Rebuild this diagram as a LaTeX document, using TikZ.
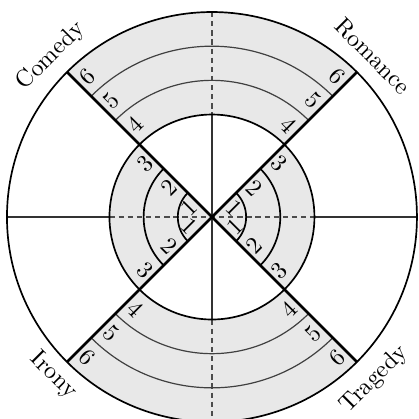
\documentclass[tikz,border=0pt]{standalone}
\usepackage{tikz}
\usetikzlibrary{calc}

\begin{document}
\begin{tikzpicture}[
  font=\normalsize,
  shade/.style={fill=black!9},
  diag/.style={line width=1.1pt},
  rim/.style={line width=0.7pt},
  ringthin/.style={line width=0.5pt, black!75},
  axis/.style={line width=0.45pt, black!80},
  axisdash/.style={line width=0.45pt, black!70, dash pattern=on 2.2pt off 1.6pt}
]

% ----- ukuran dasar -----
\def\R{3}
\def\dr{0.5}
\def\half{1.5}
\useasboundingbox (-3.102,-2.956) rectangle (3.029,3.176);
\coordinate (O) at (0,0);

% ----- daerah berarsir -----
% sektor atas dan bawah: cincin 4 sampai 6
\fill[shade] (45:\half) arc (45:135:\half) -- (135:\R) arc (135:45:\R) -- cycle;
\fill[shade] (225:\half) arc (225:315:\half) -- (315:\R) arc (315:225:\R) -- cycle;
% sektor kiri dan kanan: cincin 1 sampai 3
\fill[shade] (O) -- (135:\half) arc (135:225:\half) -- cycle;
\fill[shade] (O) -- (-45:\half) arc (-45:45:\half) -- cycle;

% ----- sumbu tegak dan mendatar -----
\draw[axis] (180:\R) -- (180:\half);
\draw[axisdash] (180:\half) -- (0:\half);
\draw[axis] (0:\half) -- (0:\R);
\draw[axisdash] (90:\R) -- (90:\half);
\draw[axis] (90:\half) -- (270:\half);
\draw[axisdash] (270:\half) -- (270:\R);

% ----- cincin -----
\foreach \r in {4,5} {
  \draw[ringthin] (45:\r*\dr) arc (45:135:\r*\dr);
  \draw[ringthin] (225:\r*\dr) arc (225:315:\r*\dr);
}
\foreach \r in {1,2} {
  \draw[rim] (135:\r*\dr) arc (135:225:\r*\dr);
  \draw[rim] (-45:\r*\dr) arc (-45:45:\r*\dr);
}
\draw[rim] (O) circle (\half);
\draw[rim] (O) circle (\R);

% ----- diagonal tebal -----
\draw[diag] (135:\R) -- (O) -- (315:\R);
\draw[diag] (45:\R) -- (O) -- (225:\R);

% ----- angka pada diagonal -----
% \sa: geser ke sektor atas/bawah, \sb: geser ke sektor kiri/kanan
\foreach \ang/\rot/\sa/\sb in {135/45/-90/90, 45/-45/90/-90,
                               225/-45/90/-90, 315/45/-90/90} {
  \foreach \i/\d in {4/1.75, 5/2.25, 6/2.75}
    \node[rotate=\rot, inner sep=0pt] (n-\ang-\i)
      at ($(\ang:\d) + (\ang+\sa:0.16)$) {\i};
  \foreach \i/\d in {1/0.33, 2/0.74, 3/1.25}
    \node[rotate=\rot, inner sep=0pt] (n-\ang-\i)
      at ($(\ang:\d) + (\ang+\sb:0.14)$) {\i};
}

% ----- nama genre -----
\node[rotate=45]  (comedy)  at (135:3.33) {Comedy};
\node[rotate=-45] (romance) at (45:3.33)  {Romance};
\node[rotate=-45] (irony)   at (225:3.28) {Irony};
\node[rotate=45]  (tragedy) at (315:3.36) {Tragedy};
\end{tikzpicture}
\end{document}
